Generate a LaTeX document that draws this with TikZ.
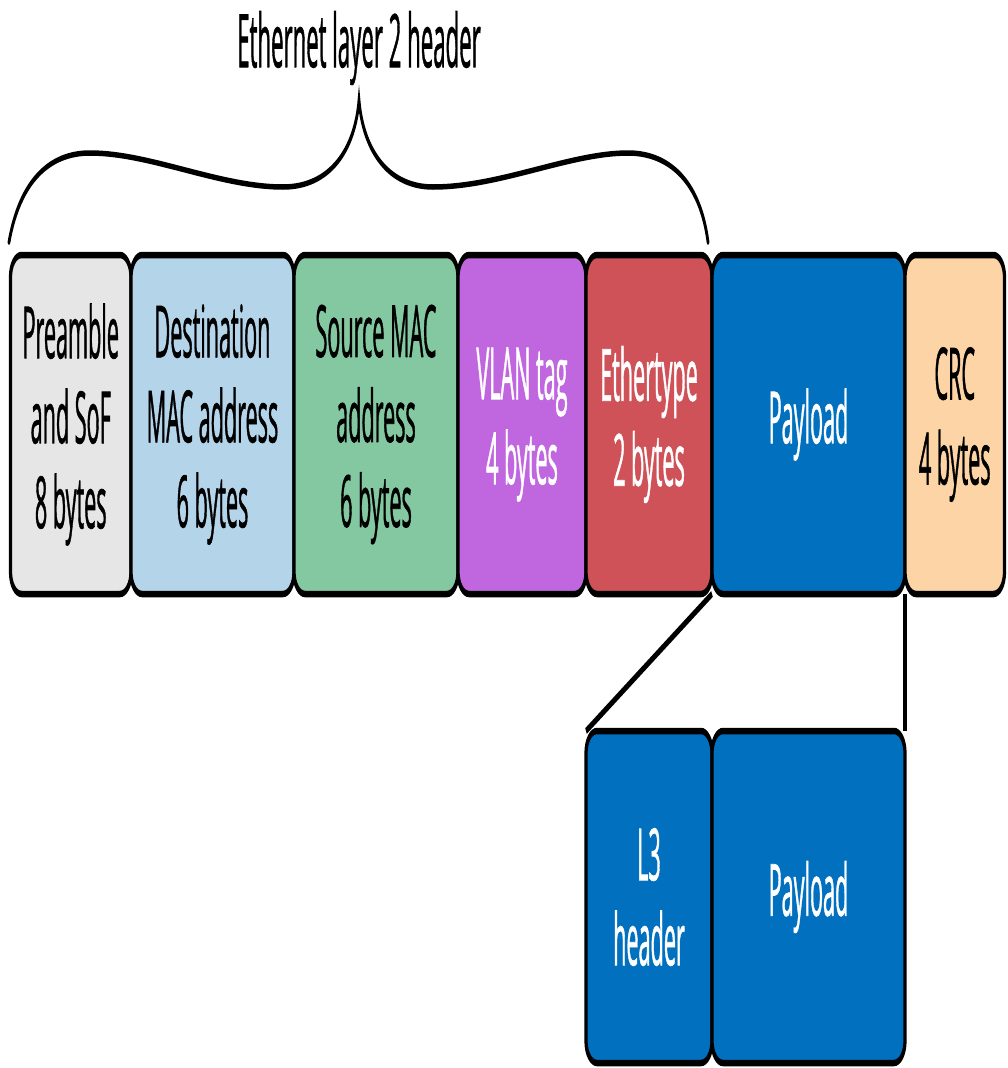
\documentclass[tikz,border=0pt]{standalone}
\usepackage{fontspec}
\setmainfont{Open Sans}[FakeStretch=0.6, FakeBold=1.0]
\definecolor{cpre}{HTML}{E6E6E6}
\definecolor{cdst}{HTML}{B4D4EA}
\definecolor{csrc}{HTML}{83C8A1}
\definecolor{cvlan}{HTML}{C067E0}
\definecolor{ceth}{HTML}{CE5257}
\definecolor{cpay}{HTML}{0070BF}
\definecolor{ccrc}{HTML}{FDD4A6}
\tikzset{
  box/.style={draw=black, line width=6.5pt, rounded corners=22pt, inner sep=0pt, outer sep=0pt,
    align=center, font=\fontsize{72}{85}\selectfont},
  toprow/.style={box, minimum height=339pt},
  botrow/.style={box, minimum height=332pt},
  link/.style={draw=black, line width=6.5pt},
  bracestyle/.style={draw=black, line width=5.5pt, line cap=round}
}
\begin{document}
\begin{tikzpicture}
\fill[white] (0,0) rectangle (1007pt,-1068pt);
\useasboundingbox (0,0) rectangle (1007pt,-1068pt);
\begin{scope}[transform canvas={xscale=0.5}, x=2pt, y=-1pt]
  \node[font=\fontsize{74}{85}\selectfont] (title) at (359,48) {Ethernet layer 2 header};
  \draw[bracestyle] (9,242) .. controls (20,180) and (50,153) .. (90,153)
    .. controls (150,153) and (220,187) .. (283,187)
    .. controls (330,187) and (355,150) .. (359,100)
    .. controls (363,150) and (388,187) .. (433,187)
    .. controls (500,187) and (570,153) .. (628,153)
    .. controls (668,153) and (700,180) .. (708,242);
  \node[toprow, fill=cpre, minimum width=241pt] (pre) at (70.75,424.5) {Preamble\\and SoF\\8 bytes};
  \node[toprow, fill=cdst, minimum width=326pt] (dst) at (212.5,424.5) {Destination\\MAC address\\6 bytes};
  \node[toprow, fill=csrc, minimum width=328pt] (src) at (376,424.5) {Source MAC\\address\\6 bytes};
  \node[toprow, fill=cvlan, text=white, minimum width=256pt] (vlan) at (522,424.5) {VLAN tag\\4 bytes};
  \node[toprow, fill=ceth, text=white, minimum width=252pt] (eth) at (649,424.5) {Ethertype\\2 bytes};
  \node[toprow, fill=cpay, text=white, minimum width=386pt] (pay) at (808.5,424.5) {Payload};
  \node[toprow, fill=ccrc, minimum width=199pt] (crc) at (954.75,424.5) {CRC\\4 bytes};
  \node[botrow, fill=cpay, text=white, minimum width=252pt] (l3) at (649,897) {L3\\header};
  \node[botrow, fill=cpay, text=white, minimum width=386pt] (pay2) at (808.5,897) {Payload};
  \draw[link] (pay.south west) -- (l3.north west);
  \draw[link] (pay.south east) -- (pay2.north east);
\end{scope}
\end{tikzpicture}
\end{document}
